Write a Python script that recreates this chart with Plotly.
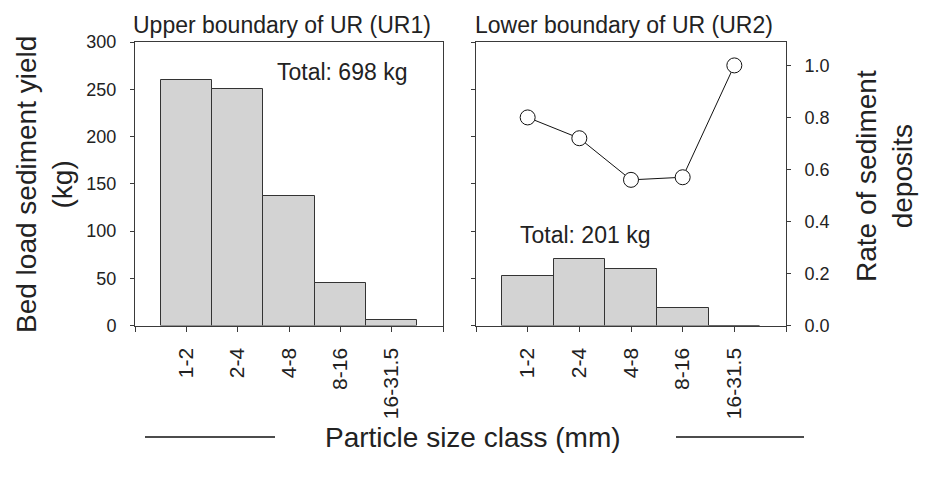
import plotly.graph_objects as go

W, H = 925, 477

# ---- data ----
size_classes = ["1-2", "2-4", "4-8", "8-16", "16-31.5"]
yield_ur1 = [260, 250, 137, 45, 6]          # kg, upper boundary (UR1)
yield_ur2 = [52, 70, 60, 19, 0]             # kg, lower boundary (UR2)
deposit_rate = [0.80, 0.72, 0.56, 0.57, 1.00]
yield_ticks = [0, 50, 100, 150, 200, 250, 300]
rate_ticks = [0.0, 0.2, 0.4, 0.6, 0.8, 1.0]

xpos = list(range(1, len(size_classes) + 1))
x_tickvals = [0] + xpos + [len(size_classes) + 1]
x_ticktext = [""] + size_classes + [""]

FONT = "Liberation Sans"
AX = "#3a3a3a"
BAR_FILL = "#d3d3d3"


def px(x):
    return x / W


def py(y):
    return 1 - y / H


fig = go.Figure()

bar_style = dict(marker=dict(color=BAR_FILL, line=dict(color="#333333", width=1)), width=1.0,
                 showlegend=False, hoverinfo="skip")

fig.add_trace(go.Bar(x=xpos, y=yield_ur1, xaxis="x", yaxis="y", **bar_style))
fig.add_trace(go.Bar(x=xpos, y=yield_ur2, xaxis="x2", yaxis="y2", **bar_style))
fig.add_trace(go.Scatter(x=xpos, y=deposit_rate, xaxis="x2", yaxis="y3", mode="lines+markers",
                         line=dict(color="#111111", width=1),
                         marker=dict(size=15, color="white", line=dict(color="#111111", width=1)),
                         showlegend=False, hoverinfo="skip"))

ydom = [py(325.5), py(42)]
xaxis_common = dict(range=[0, len(size_classes) + 1], tickmode="array", tickvals=x_tickvals,
                    ticktext=x_ticktext, tickangle=-90, ticks="outside", ticklen=5, tickwidth=1,
                    tickcolor=AX, showline=True, linecolor=AX, linewidth=1, showgrid=False,
                    zeroline=False, tickfont=dict(family=FONT, size=21, color="#222"),
                    ticklabelstandoff=8, automargin=False)

fig.update_layout(
    width=W, height=H,
    margin=dict(l=0, r=0, t=0, b=0, pad=0),
    paper_bgcolor="white", plot_bgcolor="white",
    barmode="overlay", bargap=0,
    xaxis=dict(domain=[px(135), px(443)], anchor="y", mirror=True, **xaxis_common),
    xaxis2=dict(domain=[px(476), px(786)], anchor="y2", mirror=True, **xaxis_common),
    yaxis=dict(domain=ydom, anchor="x", range=[0, 300], tickmode="array", tickvals=yield_ticks,
               ticks="outside", ticklen=4, tickcolor=AX, showline=True, linecolor=AX, linewidth=1,
               mirror=True, showgrid=False, zeroline=False, automargin=False,
               tickfont=dict(family=FONT, size=18, color="#222"), ticklabelstandoff=10),
    yaxis2=dict(domain=ydom, anchor="x2", range=[0, 300], tickmode="array", tickvals=yield_ticks,
                ticks="outside", ticklen=4, tickcolor=AX, showline=True, linecolor=AX, linewidth=1,
                showgrid=False, zeroline=False, showticklabels=False, automargin=False),
    yaxis3=dict(overlaying="y2", anchor="x2", side="right", range=[0, 1.09], tickmode="array",
                tickvals=rate_ticks, tickformat=".1f", ticks="outside", ticklen=4, tickcolor=AX,
                showline=True, linecolor=AX, linewidth=1, showgrid=False, zeroline=False,
                automargin=False,
                tickfont=dict(family=FONT, size=18, color="#222"), ticklabelstandoff=10),
)

ann_font = dict(family=FONT, color="#222")
annotations = [
    dict(text="Upper boundary of UR (UR1)", x=px(281.5), y=py(25), size=23),
    dict(text="Lower boundary of UR (UR2)", x=px(624), y=py(25), size=23),
    dict(text="Total: 698 kg", x=px(341.5), y=py(72), size=23),
    dict(text="Total: 201 kg", x=px(584.5), y=py(235), size=23),
    dict(text="Particle size class (mm)", x=px(473), y=py(437), size=28),
    dict(text="Bed load sediment yield<br>(kg)", x=px(44), y=py(185), size=28, angle=-90),
    dict(text="Rate of sediment<br>deposits", x=px(884), y=py(176), size=28, angle=-90),
]
for a in annotations:
    fig.add_annotation(text=a["text"], x=a["x"], y=a["y"], xref="paper", yref="paper",
                       xanchor="center", yanchor="middle", showarrow=False,
                       textangle=a.get("angle", 0),
                       font=dict(size=a["size"], **ann_font))

# decorative rules either side of the x-axis title
for x0, x1 in [(145, 275), (676, 804)]:
    fig.add_shape(type="line", xref="paper", yref="paper", x0=px(x0), x1=px(x1),
                  y0=py(437), y1=py(437), line=dict(color="#111", width=1.5))

fig.write_html("out.html")
